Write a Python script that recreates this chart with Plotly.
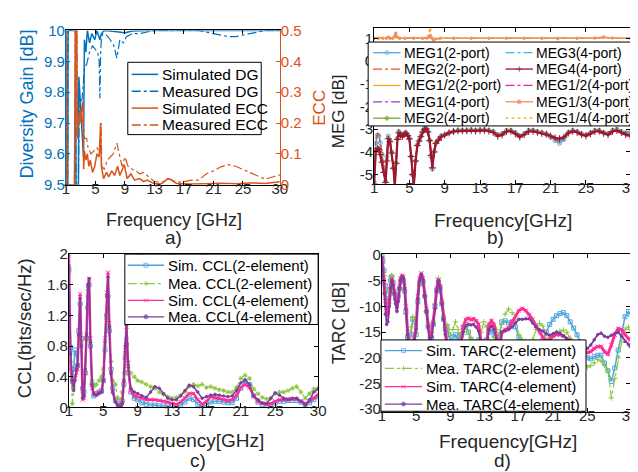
import plotly.graph_objects as go

W, H = 638, 472
FONT = "Liberation Sans, Arial, Helvetica, sans-serif"
TXT = "#262626"
BLUE = "#0072BD"
ORANGE = "#D95319"

# ---------------- tick labels ----------------
freq_ticks = [1, 5, 9, 13, 17, 21, 25, 30]
freq_ticktext = ["1", "5", "9", "13", "17", "21", "25", "30"]
dg_ticks = [9.5, 9.6, 9.7, 9.8, 9.9, 10]
dg_ticktext = ["9.5", "9.6", "9.7", "9.8", "9.9", "10"]
ecc_ticks = [0, 0.1, 0.2, 0.3, 0.4, 0.5]
ecc_ticktext = ["0", "0.1", "0.2", "0.3", "0.4", "0.5"]
meg_ticks = [-5, -4, -3, -2, -1, 0, 1]
meg_ticktext = ["-5", "-4", "-3", "-2", "-1", "0", "1"]
ccl_ticks = [0, 0.4, 0.8, 1.2, 1.6, 2]
ccl_ticktext = ["0", "0.4", "0.8", "1.2", "1.6", "2"]
tarc_ticks = [-30, -25, -20, -15, -10, -5, 0]
tarc_ticktext = ["-30", "-25", "-20", "-15", "-10", "-5", "0"]

# ---------------- panel a) DG / ECC ----------------
a_sim_dg_f = [1.0, 1.2, 1.28, 2.3, 2.4, 2.6, 2.75, 3.0, 3.2, 3.38, 3.5, 3.7, 3.9, 4.2, 4.5, 4.9,
              5.2, 5.6, 5.8, 6.2, 7.0, 8.0, 9.0, 10.0, 12.0, 30.0]
a_sim_dg = [9.0, 9.0, 10.0, 10.0, 9.0, 9.0, 9.85, 9.74, 9.66, 9.59, 9.97, 9.93, 10.0, 9.96, 9.99, 9.97,
            10.0, 9.97, 9.99, 10.0, 9.998, 9.995, 9.993, 9.998, 10.0, 10.0]

a_mea_dg_f = [1.0, 1.2, 1.28, 2.3, 2.45, 2.6, 2.8, 3.2, 3.5, 3.8,
              4.2, 4.6, 5.0, 5.3, 5.5, 5.6, 5.7, 5.8, 6.0, 6.5,
              7.0, 7.5, 7.9, 8.3, 8.8, 9.2, 10, 11, 12, 13,
              19, 20, 21, 22, 23, 24, 25, 26, 27, 28, 30]
a_mea_dg = [9.0, 9.0, 10.0, 10.0, 9.0, 9.0, 9.75, 9.78, 9.88, 9.89,
            9.93, 9.95, 9.94, 9.93, 9.9, 9.78, 9.93, 9.97, 9.99, 9.985,
            9.97, 9.95, 9.91, 9.97, 9.96, 9.98, 9.99, 9.99, 9.995, 10.0,
            10.0, 9.995, 9.99, 9.985, 9.98, 9.98, 9.985, 9.99, 9.995, 10.0, 10.0]

a_sim_ecc_f = [1.0, 1.05, 1.12, 2.15, 2.3, 2.45, 2.55, 2.7, 2.9, 3.1,
               3.3, 3.4, 3.5, 3.7, 3.9, 4.1, 4.3, 4.6, 4.9, 5.2,
               5.5, 5.7, 5.8, 6.1, 6.5, 6.8, 7.2, 7.6, 8.0, 8.3,
               8.9, 9.3, 9.8, 10.3, 11, 11.5, 12, 13, 14, 14.8,
               15.3, 16, 17, 18, 20, 22, 24, 26, 28, 30]
a_sim_ecc = [0.6, 0.3, 0.0, 0.0, 0.6, 0.6, 0.15, 0.22, 0.2, 0.24,
             0.27, 0.05, 0.11, 0.08, 0.1, 0.06, 0.08, 0.04, 0.06, 0.1,
             0.09, 0.2, 0.06, 0.02, 0.04, 0.025, 0.045, 0.03, 0.06, 0.03,
             0.065, 0.02, 0.035, 0.015, 0.02, 0.01, 0.015, 0.003, 0.004, 0.02,
             0.015, 0.004, 0.003, 0.002, 0.003, 0.005, 0.003, 0.006, 0.004, 0.01]

a_mea_ecc_f = [1.0, 1.05, 1.12, 2.15, 2.3, 2.45, 2.55, 2.8, 3.1, 3.3,
               3.5, 3.8, 4.0, 4.4, 4.8, 5.2, 5.6, 5.75, 5.85, 6.2,
               6.6, 7.0, 7.4, 7.9, 8.3, 8.6, 9.0, 9.4, 10, 10.5,
               11, 11.5, 12, 12.5, 13, 14, 15, 16, 17, 18,
               19, 20, 21, 22, 23, 24, 25, 26, 27, 28,
               29, 30]
a_mea_ecc = [0.6, 0.3, 0.0, 0.0, 0.6, 0.6, 0.2, 0.25, 0.2, 0.22,
             0.15, 0.15, 0.12, 0.1, 0.11, 0.12, 0.1, 0.2, 0.06, 0.05,
             0.08, 0.09, 0.1, 0.135, 0.09, 0.06, 0.09, 0.06, 0.05, 0.045,
             0.035, 0.04, 0.03, 0.02, 0.01, 0.008, 0.02, 0.008, 0.01, 0.015,
             0.015, 0.035, 0.045, 0.058, 0.065, 0.06, 0.05, 0.04, 0.03, 0.018,
             0.025, 0.032]

# ---------------- panel b) MEG ----------------
b_freq = [1.0, 1.2, 1.4, 1.55, 1.7, 1.9, 2.1, 2.3, 2.45, 2.6,
          2.8, 3.0, 3.2, 3.35, 3.5, 3.65, 3.8, 4.0, 4.2, 4.4,
          4.6, 4.8, 5.0, 5.2, 5.35, 5.5, 5.7, 5.9, 6.1, 6.3,
          6.5, 6.7, 6.9, 7.1, 7.3, 7.45, 7.6, 7.8, 8.0, 8.3,
          8.6, 9.0, 9.5, 10, 10.5, 11, 11.5, 12, 12.5, 13,
          13.5, 14, 14.5, 15, 15.5, 16, 16.5, 17, 17.5, 18,
          18.5, 19, 19.5, 20, 20.5, 21, 21.5, 22, 22.5, 23,
          23.5, 24, 24.5, 25, 25.5, 26, 26.5, 27, 27.5, 28,
          28.5, 29, 29.5, 30]
meg1_2p = [-5.3, -3.6, -3.25, -3.3, -3.6, -4.1, -4.7, -5.3, -4.2, -3.3,
           -3.5, -4.0, -4.7, -5.6, -4.5, -3.4, -3.1, -3.2, -3.3, -3.2,
           -3.15, -3.25, -3.4, -4.2, -5.0, -5.6, -4.4, -3.7, -3.5, -3.3,
           -3.1, -2.97, -2.95, -3.1, -3.5, -4.2, -4.75, -4.0, -3.6, -3.45,
           -3.3, -3.25, -3.15, -3.1, -3.05, -3.05, -3.05, -3.03, -3.05, -3.03,
           -3.02, -3.05, -3.1, -3.25, -3.2, -3.05, -3.05, -3.15, -3.3, -3.2,
           -3.05, -3.05, -3.1, -3.15, -3.2, -3.35, -3.5, -3.62, -3.45, -3.15,
           -3.05, -3.1, -3.2, -3.25, -3.15, -3.05, -3.05, -3.15, -3.2, -3.05,
           -3.0, -3.1, -3.15, -3.15]
meg2_2p = [-5.0, -3.4, -3.18, -3.25, -3.55, -4.05, -4.65, -5.3, -4.1, -3.28,
           -3.45, -3.95, -4.65, -5.5, -4.4, -3.35, -3.08, -3.18, -3.28, -3.18,
           -3.12, -3.22, -3.38, -4.15, -4.95, -5.5, -4.35, -3.65, -3.45, -3.28,
           -3.08, -2.96, -2.93, -3.08, -3.45, -4.1, -4.7, -3.95, -3.55, -3.42,
           -3.28, -3.22, -3.13, -3.08, -3.04, -3.04, -3.04, -3.02, -3.04, -3.02,
           -3.01, -3.04, -3.08, -3.22, -3.18, -3.04, -3.04, -3.13, -3.28, -3.18,
           -3.04, -3.04, -3.08, -3.13, -3.18, -3.3, -3.45, -3.55, -3.4, -3.13,
           -3.04, -3.08, -3.18, -3.22, -3.13, -3.04, -3.04, -3.13, -3.18, -3.04,
           -2.99, -3.08, -3.13, -3.13]
meg1_4p = [-5.4, -4.0, -3.85, -3.9, -4.1, -4.4, -4.85, -5.35, -4.4, -3.4,
           -3.55, -4.05, -4.7, -5.5, -4.5, -3.45, -3.15, -3.25, -3.3, -3.22,
           -3.18, -3.28, -3.42, -4.2, -5.0, -5.5, -4.4, -3.7, -3.5, -3.32,
           -3.12, -3.0, -2.98, -3.12, -3.5, -4.15, -4.7, -4.0, -3.62, -3.48,
           -3.32, -3.25, -3.15, -3.08, -3.05, -3.05, -3.05, -3.04, -3.06, -3.04,
           -3.03, -3.06, -3.12, -3.27, -3.22, -3.07, -3.07, -3.17, -3.3, -3.2,
           -3.07, -3.06, -3.1, -3.14, -3.18, -3.28, -3.38, -3.42, -3.33, -3.14,
           -3.06, -3.1, -3.2, -3.25, -3.17, -3.07, -3.06, -3.15, -3.2, -3.07,
           -3.03, -3.12, -3.2, -3.25]
meg2_4p = [-5.3, -4.0, -3.82, -3.88, -4.08, -4.4, -4.85, -5.3, -4.35, -3.38,
           -3.52, -4.02, -4.68, -5.5, -4.45, -3.42, -3.13, -3.23, -3.3, -3.21,
           -3.16, -3.26, -3.4, -4.18, -4.98, -5.5, -4.38, -3.68, -3.48, -3.3,
           -3.11, -2.99, -2.97, -3.11, -3.48, -4.12, -4.68, -3.98, -3.6, -3.46,
           -3.31, -3.24, -3.14, -3.08, -3.05, -3.05, -3.05, -3.04, -3.06, -3.04,
           -3.03, -3.06, -3.12, -3.28, -3.23, -3.08, -3.07, -3.18, -3.32, -3.22,
           -3.08, -3.07, -3.12, -3.16, -3.2, -3.3, -3.4, -3.44, -3.35, -3.15,
           -3.07, -3.12, -3.22, -3.27, -3.18, -3.08, -3.07, -3.16, -3.22, -3.08,
           -3.04, -3.13, -3.22, -3.27]
meg3_4p = [-5.2, -3.9, -3.7, -3.75, -3.95, -4.3, -4.8, -5.3, -4.3, -3.35,
           -3.5, -4.0, -4.7, -5.6, -4.5, -3.4, -3.12, -3.22, -3.3, -3.2,
           -3.15, -3.25, -3.4, -4.2, -5.0, -5.6, -4.4, -3.7, -3.5, -3.3,
           -3.1, -2.98, -2.96, -3.1, -3.5, -4.2, -4.75, -4.0, -3.6, -3.45,
           -3.3, -3.25, -3.15, -3.1, -3.05, -3.05, -3.05, -3.03, -3.05, -3.03,
           -3.02, -3.05, -3.1, -3.25, -3.2, -3.05, -3.05, -3.15, -3.3, -3.2,
           -3.05, -3.05, -3.1, -3.15, -3.2, -3.32, -3.45, -3.5, -3.4, -3.15,
           -3.05, -3.1, -3.2, -3.25, -3.15, -3.05, -3.05, -3.15, -3.2, -3.05,
           -3.0, -3.1, -3.15, -3.15]
meg4_4p = [-5.4, -3.95, -3.85, -3.9, -4.12, -4.45, -4.9, -5.35, -4.4, -3.42,
           -3.55, -4.05, -4.72, -5.5, -4.5, -3.45, -3.16, -3.26, -3.32, -3.23,
           -3.18, -3.28, -3.43, -4.2, -5.0, -5.5, -4.4, -3.72, -3.52, -3.33,
           -3.13, -3.0, -2.98, -3.12, -3.5, -4.15, -4.7, -4.0, -3.62, -3.48,
           -3.33, -3.26, -3.16, -3.1, -3.07, -3.07, -3.07, -3.06, -3.08, -3.06,
           -3.05, -3.08, -3.14, -3.3, -3.25, -3.1, -3.09, -3.2, -3.34, -3.24,
           -3.1, -3.09, -3.14, -3.18, -3.22, -3.3, -3.38, -3.42, -3.35, -3.17,
           -3.09, -3.14, -3.24, -3.29, -3.2, -3.1, -3.09, -3.18, -3.24, -3.1,
           -3.06, -3.15, -3.24, -3.3]

b_ratio_freq = [1.0, 1.5, 2.0, 2.4, 2.6, 2.8, 3.1, 3.3, 3.45, 3.6,
                3.9, 4.5, 5.5, 6.5, 7.0, 7.2, 7.35, 7.5, 7.7, 7.9,
                8.5, 10, 12, 14, 16, 18, 20, 21.8, 24, 26,
                27, 28, 30]
meg12_2p = [1.0, 1.0, 1.0, 1.01, 1.06, 1.01, 1.0, 1.04, 1.1, 1.03,
            1.0, 1.0, 1.0, 1.0, 1.0, 1.02, 1.06, 1.02, 0.96, 0.98,
            1.0, 1.0, 1.0, 1.0, 1.0, 1.0, 1.0, 0.98, 1.0, 1.0,
            1.03, 1.0, 1.0]
meg12_4p = [1.0, 1.0, 1.0, 1.0, 1.04, 1.0, 1.0, 1.06, 1.2, 1.05,
            1.0, 1.0, 1.0, 1.0, 1.01, 1.08, 1.22, 1.05, 0.94, 0.97,
            1.0, 1.0, 1.0, 1.0, 1.0, 1.0, 1.0, 0.98, 1.0, 1.0,
            1.04, 1.0, 1.0]
meg13_4p = [1.0, 1.0, 1.0, 1.0, 1.05, 1.0, 1.0, 1.07, 1.22, 1.06,
            1.0, 1.0, 1.0, 1.0, 1.01, 1.05, 1.12, 1.03, 0.93, 0.97,
            1.0, 1.0, 1.0, 1.0, 1.0, 1.0, 1.0, 0.98, 1.0, 1.01,
            1.06, 1.01, 1.0]
meg14_4p = [1.0, 1.0, 1.0, 1.0, 1.03, 1.0, 1.0, 1.03, 1.08, 1.02,
            1.0, 1.0, 1.0, 1.0, 1.02, 1.2, 1.48, 1.1, 0.95, 0.98,
            1.0, 1.0, 1.0, 1.0, 1.0, 1.0, 1.0, 0.99, 1.0, 1.0,
            1.02, 1.0, 1.0]

# ---------------- panel c) CCL ----------------
c_freq = [1.0, 1.2, 1.4, 1.55, 1.7, 1.85, 2.0, 2.15, 2.3, 2.45,
          2.6, 2.75, 2.9, 3.05, 3.2, 3.35, 3.5, 3.7, 3.9, 4.2,
          4.5, 4.8, 5.0, 5.2, 5.4, 5.55, 5.7, 5.9, 6.1, 6.4,
          6.7, 7.0, 7.2, 7.4, 7.55, 7.7, 7.9, 8.2, 8.6, 9.0,
          9.5, 10, 10.5, 11, 11.5, 12, 12.5, 13, 13.5, 14,
          14.5, 15, 15.5, 16, 16.5, 17, 17.5, 18, 18.5, 19,
          19.5, 20, 20.5, 21, 21.5, 22, 22.5, 23, 23.5, 24,
          24.5, 25, 25.5, 26, 26.5, 27, 27.5, 28, 28.5, 29,
          29.5, 30]
ccl_sim_2 = [1.8, 0.78, 0.35, 0.5, 0.75, 0.7, 0.55, 1.0, 1.35, 0.9,
             0.25, 0.2, 0.45, 0.9, 1.3, 1.6, 0.8, 0.3, 0.15, 0.18,
             0.2, 0.22, 0.35, 0.75, 1.2, 1.45, 1.0, 0.5, 0.25, 0.1,
             0.05, 0.02, 0.08, 0.3, 0.65, 0.82, 0.45, 0.2, 0.12, 0.1,
             0.06, 0.04, 0.03, 0.03, 0.02, 0.02, 0.02, 0.01, 0.01, 0.03,
             0.07, 0.12, 0.1, 0.04, 0.01, 0.03, 0.07, 0.08, 0.08, 0.07,
             0.06, 0.06, 0.12, 0.25, 0.34, 0.3, 0.15, 0.07, 0.04, 0.03,
             0.03, 0.06, 0.08, 0.08, 0.09, 0.09, 0.09, 0.07, 0.04, 0.06,
             0.1, 0.14]
ccl_mea_2 = [1.75, 0.6, 0.05, 0.25, 0.4, 0.5, 0.55, 0.95, 1.35, 0.85,
             0.2, 0.18, 0.45, 0.9, 1.45, 1.6, 0.85, 0.35, 0.27, 0.3,
             0.35, 0.4, 0.5, 0.8, 1.15, 1.3, 1.05, 0.6, 0.35, 0.3,
             0.12, 0.1, 0.2, 0.45, 0.7, 0.9, 0.6, 0.45, 0.4, 0.35,
             0.33, 0.3, 0.27, 0.25, 0.2, 0.17, 0.14, 0.12, 0.13, 0.16,
             0.2, 0.27, 0.3, 0.28, 0.3, 0.26, 0.27, 0.25, 0.23, 0.22,
             0.2, 0.2, 0.26, 0.38, 0.42, 0.38, 0.24, 0.18, 0.13, 0.11,
             0.12, 0.18, 0.2, 0.2, 0.22, 0.25, 0.27, 0.2, 0.12, 0.18,
             0.24, 0.25]
ccl_sim_4 = [2.0, 0.5, 0.33, 0.3, 0.38, 0.45, 0.5, 0.95, 1.48, 0.8,
             0.1, 0.12, 0.45, 0.95, 1.55, 1.68, 0.9, 0.25, 0.17, 0.17,
             0.2, 0.2, 0.35, 0.9, 1.5, 1.76, 1.1, 0.45, 0.2, 0.08,
             0.03, 0.0, 0.05, 0.35, 0.75, 1.05, 0.5, 0.22, 0.15, 0.14,
             0.12, 0.1, 0.1, 0.1, 0.09, 0.08, 0.07, 0.05, 0.04, 0.07,
             0.12, 0.18, 0.18, 0.1, 0.04, 0.08, 0.14, 0.13, 0.12, 0.1,
             0.09, 0.1, 0.16, 0.26, 0.3, 0.26, 0.15, 0.08, 0.05, 0.04,
             0.05, 0.08, 0.1, 0.1, 0.11, 0.11, 0.11, 0.08, 0.05, 0.08,
             0.13, 0.17]
ccl_mea_4 = [1.85, 0.7, 0.35, 0.22, 0.35, 0.5, 0.55, 0.95, 1.42, 0.8,
             0.12, 0.15, 0.5, 0.95, 1.6, 1.68, 0.85, 0.3, 0.18, 0.16,
             0.18, 0.2, 0.35, 0.85, 1.45, 1.7, 1.05, 0.45, 0.2, 0.07,
             0.03, 0.01, 0.05, 0.35, 0.8, 1.07, 0.55, 0.25, 0.2, 0.18,
             0.15, 0.13, 0.2, 0.27, 0.25, 0.18, 0.12, 0.1, 0.1, 0.15,
             0.22, 0.29, 0.27, 0.2, 0.12, 0.14, 0.16, 0.17, 0.16, 0.15,
             0.14, 0.15, 0.22, 0.32, 0.36, 0.3, 0.15, 0.1, 0.06, 0.05,
             0.12, 0.19, 0.16, 0.12, 0.1, 0.12, 0.12, 0.08, 0.03, 0.1,
             0.2, 0.24]

# ---------------- panel d) TARC ----------------
d_freq = [1.0, 1.1, 1.25, 1.4, 1.55, 1.7, 1.85, 2.0, 2.15, 2.3,
          2.45, 2.6, 2.75, 2.9, 3.05, 3.2, 3.35, 3.5, 3.65, 3.8,
          4.0, 4.2, 4.4, 4.6, 4.8, 5.0, 5.2, 5.4, 5.6, 5.8,
          6.0, 6.2, 6.4, 6.6, 6.8, 7.0, 7.2, 7.4, 7.6, 7.8,
          8.0, 8.2, 8.4, 8.6, 8.8, 9.0, 9.3, 9.6, 9.9, 10.2,
          10.5, 10.8, 11.1, 11.4, 11.7, 12.0, 12.3, 12.6, 12.9, 13.2,
          13.5, 13.8, 14.1, 14.4, 14.7, 15.0, 15.4, 15.8, 16.2, 16.6,
          17.0, 17.4, 17.8, 18.2, 18.6, 19.0, 19.4, 19.8, 20.2, 20.6,
          21.0, 21.4, 21.8, 22.2, 22.6, 23.0, 23.4, 23.8, 24.2, 24.6,
          25.0, 25.4, 25.8, 26.2, 26.6, 27.0, 27.4, 27.8, 28.2, 28.6,
          29.0, 29.4, 29.8, 30.0]
tarc_sim_2 = [-0.2, -1.0, -3.0, -6.0, -8.5, -9.5, -7.0, -5.0, -4.2, -5.5,
              -7.5, -8.5, -9.0, -8.0, -6.5, -5.0, -4.5, -5.0, -7.0, -11.0,
              -16.0, -17.5, -15.5, -12.5, -13.0, -15.5, -9.0, -5.5, -4.8, -5.2,
              -8.0, -11.0, -14.0, -17.0, -16.0, -13.5, -10.0, -7.0, -5.2, -6.5,
              -9.5, -12.5, -14.5, -14.0, -15.5, -17.0, -16.0, -15.5, -16.5, -15.5,
              -14.0, -13.5, -15.0, -16.5, -17.0, -17.5, -16.5, -16.8, -17.0, -16.5,
              -15.0, -14.5, -15.5, -17.0, -16.0, -13.0, -12.8, -13.2, -13.0, -14.0,
              -16.0, -18.0, -17.5, -18.5, -19.0, -18.0, -17.0, -16.5, -15.0, -13.5,
              -12.5, -11.8, -11.4, -11.2, -11.8, -13.0, -14.2, -15.5, -17.0, -18.5,
              -20.0, -20.2, -19.8, -19.5, -19.5, -21.0, -22.5, -24.6, -22.0, -18.5,
              -15.0, -12.0, -11.0, -11.5]
tarc_mea_2 = [-0.3, -1.5, -4.0, -7.0, -9.0, -9.0, -6.5, -4.2, -4.0, -5.0,
              -7.0, -8.0, -9.0, -8.0, -6.5, -5.0, -4.5, -4.8, -7.0, -11.5,
              -16.5, -17.0, -14.0, -12.0, -12.5, -15.0, -9.5, -6.0, -5.0, -5.2,
              -8.0, -11.0, -13.5, -16.0, -15.0, -13.0, -9.5, -6.5, -4.5, -6.0,
              -9.0, -12.0, -14.0, -13.5, -14.5, -15.5, -14.5, -13.0, -14.5, -16.0,
              -15.5, -14.0, -15.0, -16.0, -17.0, -17.5, -16.5, -15.0, -13.0, -14.0,
              -16.5, -17.0, -16.0, -14.5, -15.5, -13.5, -11.5, -10.5, -11.2, -12.5,
              -15.5, -16.5, -16.8, -17.0, -16.5, -14.5, -13.3, -13.8, -15.5, -16.0,
              -15.5, -15.0, -14.8, -14.6, -15.0, -16.2, -17.5, -19.0, -20.0, -21.0,
              -21.8, -21.5, -21.0, -20.3, -20.6, -21.5, -22.5, -27.8, -24.0, -20.0,
              -17.0, -14.5, -14.0, -14.5]
tarc_sim_4 = [-0.5, -2.0, -5.3, -9.0, -11.5, -11.8, -9.0, -6.0, -4.5, -5.5,
              -7.0, -9.0, -10.5, -8.5, -6.0, -4.5, -4.0, -4.2, -6.0, -10.0,
              -15.0, -20.0, -21.0, -17.0, -16.0, -14.0, -8.0, -4.5, -3.5, -4.5,
              -7.5, -10.5, -13.5, -16.5, -15.5, -13.0, -10.0, -6.5, -4.8, -6.0,
              -9.0, -12.0, -15.0, -18.0, -20.0, -21.0, -20.0, -19.5, -19.0, -17.5,
              -14.0, -12.5, -12.3, -12.6, -12.4, -12.8, -13.5, -17.0, -20.0, -18.0,
              -13.5, -12.8, -13.5, -16.0, -19.0, -15.0, -14.5, -14.2, -13.0, -11.8,
              -10.8, -10.4, -10.8, -11.6, -12.5, -13.8, -15.0, -16.0, -16.6, -16.5,
              -15.8, -15.5, -15.5, -15.7, -16.2, -16.8, -17.2, -17.8, -18.5, -18.8,
              -19.0, -18.8, -18.2, -17.8, -17.8, -18.8, -19.3, -17.5, -15.5, -14.3,
              -14.5, -15.5, -16.2, -16.6]
tarc_mea_4 = [-0.5, -3.0, -7.5, -11.5, -13.5, -13.0, -10.0, -6.5, -5.0, -5.8,
              -7.5, -9.5, -11.0, -9.0, -6.5, -5.0, -4.3, -4.5, -6.5, -10.5,
              -15.5, -20.0, -21.0, -17.5, -16.5, -14.5, -8.5, -5.0, -3.8, -4.8,
              -8.0, -11.0, -14.0, -17.0, -16.0, -13.5, -10.5, -7.0, -5.0, -6.5,
              -9.5, -12.5, -15.5, -18.5, -20.0, -21.0, -20.0, -19.5, -19.0, -18.0,
              -15.0, -13.8, -13.5, -13.6, -13.5, -14.0, -14.8, -17.5, -20.0, -18.5,
              -14.5, -13.8, -14.5, -16.5, -19.0, -15.0, -14.8, -14.5, -14.0, -13.2,
              -12.5, -12.5, -12.4, -12.4, -13.2, -14.0, -14.5, -14.8, -15.3, -15.6,
              -15.3, -15.0, -15.2, -15.8, -16.3, -16.6, -17.0, -17.5, -17.8, -18.0,
              -18.2, -17.5, -16.5, -15.5, -15.2, -15.8, -16.0, -15.6, -15.3, -15.0,
              -15.8, -16.8, -17.4, -17.8]

# ---------------- helpers ----------------
def xdom(x0, x1):
    return [x0 / W, x1 / W]


def ydom(y0, y1):
    return [1 - y1 / H, 1 - y0 / H]


def ax(**kw):
    d = dict(showgrid=False, zeroline=False, showline=True, linewidth=1, linecolor="black",
             ticks="inside", ticklen=4, tickwidth=1, tickcolor="black",
             tickfont=dict(family=FONT, size=15, color=TXT), fixedrange=True)
    d.update(kw)
    return d


fig = go.Figure()


def add(x, y, color, width=1.5, dash="solid", xa="x", ya="y", symbol=None, msize=4, mlw=1):
    if symbol is None:
        fig.add_trace(go.Scatter(x=x, y=y, mode="lines", xaxis=xa, yaxis=ya, showlegend=False,
                                 hoverinfo="skip", line=dict(color=color, width=width, dash=dash)))
    else:
        fig.add_trace(go.Scatter(x=x, y=y, mode="lines+markers", xaxis=xa, yaxis=ya, showlegend=False,
                                 hoverinfo="skip", line=dict(color=color, width=width, dash=dash),
                                 marker=dict(symbol=symbol, size=msize, color=color,
                                             line=dict(color=color, width=mlw))))


# panel a
add(a_sim_dg_f, a_sim_dg, BLUE, 1.5, "solid", "x", "y")
add(a_mea_dg_f, a_mea_dg, BLUE, 1.2, "dashdot", "x", "y")
add(a_sim_ecc_f, a_sim_ecc, ORANGE, 1.5, "solid", "x", "y2")
add(a_mea_ecc_f, a_mea_ecc, ORANGE, 1.2, "dashdot", "x", "y2")

# panel b colours
C_MEG1_2 = "#5AA5DC"
C_MEG2_2 = "#E8541E"
C_MEG12_2 = "#EDB120"
C_MEG1_4 = "#9B3DC0"
C_MEG2_4 = "#77AC30"
C_MEG3_4 = "#3DB8EE"
C_MEG4_4 = "#A2142F"
C_MEG12_4 = "#F020B0"
C_MEG13_4 = "#F08C6C"
C_MEG14_4 = "#F5A623"

add(b_freq, meg1_2p, C_MEG1_2, 1.5, "solid", "x2", "y3", "circle-open", 4)
add(b_freq, meg2_2p, C_MEG2_2, 1.5, "dashdot", "x2", "y3")
add(b_freq, meg1_4p, C_MEG1_4, 1.5, "dashdot", "x2", "y3")
add(b_freq, meg2_4p, C_MEG2_4, 1.5, "solid", "x2", "y3", "circle", 3)
add(b_freq, meg3_4p, C_MEG3_4, 1.2, "dashdot", "x2", "y3")
add(b_freq, meg4_4p, C_MEG4_4, 2.2, "solid", "x2", "y3", "cross-thin-open", 5)
add(b_ratio_freq, meg12_2p, C_MEG12_2, 1.5, "solid", "x2", "y3")
add(b_ratio_freq, meg12_4p, C_MEG12_4, 1.2, "dashdot", "x2", "y3")
add(b_ratio_freq, meg13_4p, C_MEG13_4, 1.2, "solid", "x2", "y3", "circle", 2.5)
add(b_ratio_freq, meg14_4p, C_MEG14_4, 1.5, "dot", "x2", "y3")

# panel c/d colours
C_SIM2 = "#4DA3DD"
C_MEA2 = "#8DC63F"
C_SIM4 = "#FF2E96"
C_MEA4 = "#7E3D9E"

add(c_freq, ccl_sim_2, C_SIM2, 1.5, "solid", "x3", "y4", "square-open", 4)
add(c_freq, ccl_mea_2, C_MEA2, 1.2, "dashdot", "x3", "y4", "asterisk-open", 4)
add(c_freq, ccl_sim_4, C_SIM4, 2.5, "solid", "x3", "y4", "x-thin-open", 4)
add(c_freq, ccl_mea_4, C_MEA4, 1.5, "solid", "x3", "y4", "circle", 2.5)

add(d_freq, tarc_sim_2, C_SIM2, 1.5, "solid", "x4", "y5", "square-open", 4)
add(d_freq, tarc_mea_2, C_MEA2, 1.2, "dashdot", "x4", "y5", "cross-thin-open", 4)
add(d_freq, tarc_sim_4, C_SIM4, 3, "solid", "x4", "y5", "x-thin-open", 4)
add(d_freq, tarc_mea_4, C_MEA4, 1.8, "solid", "x4", "y5", "circle", 2.5)

# ---------------- legends (drawn on a pixel overlay axis) ----------------
annotations = []


def txt(x, y, s, size, color="black", xanchor="left", angle=0):
    annotations.append(dict(x=x, y=y, xref="x5", yref="y6", text=s, showarrow=False,
                            xanchor=xanchor, yanchor="middle", textangle=angle,
                            font=dict(family=FONT, size=size, color=color)))


def box(x0, y0, x1, y1):
    fig.add_trace(go.Scatter(x=[x0, x1, x1, x0, x0], y=[y0, y0, y1, y1, y0], mode="lines",
                             fill="toself", fillcolor="white", line=dict(color="black", width=1),
                             xaxis="x5", yaxis="y6", showlegend=False, hoverinfo="skip"))


def sample(x0, x1, y, color, width=1.5, dash="solid", symbol=None, msize=5):
    if symbol is None:
        fig.add_trace(go.Scatter(x=[x0, x1], y=[y, y], mode="lines", xaxis="x5", yaxis="y6",
                                 showlegend=False, hoverinfo="skip",
                                 line=dict(color=color, width=width, dash=dash)))
    else:
        fig.add_trace(go.Scatter(x=[x0, (x0 + x1) / 2, x1], y=[y, y, y], mode="lines+markers",
                                 xaxis="x5", yaxis="y6", showlegend=False, hoverinfo="skip",
                                 line=dict(color=color, width=width, dash=dash),
                                 marker=dict(symbol=symbol, size=[0, msize, 0], color=color,
                                             line=dict(color=color, width=1))))


# legend a
box(118, 47, 254, 122)
leg_a = [("Simulated DG", BLUE, "solid"), ("Measured DG", BLUE, "dashdot"),
         ("Simulated ECC", ORANGE, "solid"), ("Measured ECC", ORANGE, "dashdot")]
for (lab, col, ds), yy in zip(leg_a, [59.5, 77, 94.5, 112]):
    sample(122, 149, yy, col, 1.5, ds)
    txt(151, yy, lab, 15.5)

# legend b (two columns)
box(363, 26, 635, 113)
leg_b_left = [("MEG1(2-port)", C_MEG1_2, "solid", "circle-open"),
              ("MEG2(2-port)", C_MEG2_2, "dashdot", None),
              ("MEG1/2(2-port)", C_MEG12_2, "solid", None),
              ("MEG1(4-port)", C_MEG1_4, "dashdot", None),
              ("MEG2(4-port)", C_MEG2_4, "solid", "circle")]
leg_b_right = [("MEG3(4-port)", C_MEG3_4, "dashdot", None),
               ("MEG4(4-port)", C_MEG4_4, "solid", "cross-thin-open"),
               ("MEG1/2(4-port)", C_MEG12_4, "dashdot", None),
               ("MEG1/3(4-port)", C_MEG13_4, "solid", "circle"),
               ("MEG1/4(4-port)", C_MEG14_4, "dot", None)]
rows_b = [37, 54, 71, 88, 105]
for (lab, col, ds, sym), yy in zip(leg_b_left, rows_b):
    sample(368, 396, yy, col, 1.3, ds, sym, 4)
    txt(397, yy, lab, 14)
for (lab, col, ds, sym), yy in zip(leg_b_right, rows_b):
    sample(503, 531, yy, col, 1.3, ds, sym, 4)
    txt(532, yy, lab, 14)

# legend c
box(115, 246, 312, 319)
leg_c = [("Sim. CCL(2-element)", C_SIM2, "solid", "square-open"),
         ("Mea. CCL(2-element)", C_MEA2, "dashdot", "asterisk-open"),
         ("Sim. CCL(4-element)", C_SIM4, "solid", "x-thin-open"),
         ("Mea. CCL(4-element)", C_MEA4, "solid", "circle")]
for (lab, col, ds, sym), yy in zip(leg_c, [257.5, 276.5, 294, 311]):
    sample(118, 155, yy, col, 1.3, ds, sym, 4)
    txt(157, yy, lab, 15)

# legend d
box(376, 335, 585, 409)
leg_d = [("Sim. TARC(2-element)", C_SIM2, "solid", "square-open"),
         ("Mea. TARC(2-element)", C_MEA2, "dashdot", "cross-thin-open"),
         ("Sim. TARC(4-element)", C_SIM4, "solid", "x-thin-open"),
         ("Mea. TARC(4-element)", C_MEA4, "solid", "circle")]
for (lab, col, ds, sym), yy in zip(leg_d, [346, 364.5, 383.5, 401.5]):
    sample(380, 418, yy, col, 1.3, ds, sym, 4)
    txt(420, yy, lab, 15)

# axis titles and panel labels
txt(165, 211, "Frequency [GHz]", 18, TXT, "center")
txt(165, 229, "a)", 19, TXT, "center")
txt(15, 90, "Diversity Gain [dB]", 18, BLUE, "center", -90)
txt(313, 94, "ECC", 17, ORANGE, "center", -90)

txt(500, 211, "Frequency[GHz]", 19, TXT, "center")
txt(493, 229, "b)", 19, TXT, "center")
txt(333, 98, "MEG [dB]", 17, TXT, "center", -90)

txt(187, 439, "Frequency[GHz]", 19, TXT, "center")
txt(190, 460, "c)", 19, TXT, "center")
txt(13, 323, "CCL(bits/sec/Hz)", 18.5, TXT, "center", -90)

txt(505, 440, "Frequency[GHz]", 19, TXT, "center")
txt(500, 460, "d)", 19, TXT, "center")
txt(333, 318, "TARC [dB]", 17.5, TXT, "center", -90)

XSO = -10   # pull x tick labels closer to the axis
YSO = -3

fig.update_layout(
    width=W, height=H,
    margin=dict(l=0, r=0, t=0, b=0),
    paper_bgcolor="white",
    plot_bgcolor="rgba(0,0,0,0)",
    showlegend=False,
    font=dict(family=FONT, color=TXT),
    xaxis=ax(domain=xdom(55, 273), range=[1, 30], anchor="y", tickvals=freq_ticks,
             ticktext=freq_ticktext, mirror="ticks", ticklabelstandoff=XSO),
    yaxis=ax(domain=ydom(14, 174), range=[9.5, 10], anchor="x", tickvals=dg_ticks,
             ticktext=dg_ticktext, linecolor=BLUE, tickcolor=BLUE, ticklabelstandoff=YSO,
             tickfont=dict(family=FONT, size=15, color=BLUE)),
    yaxis2=ax(overlaying="y", side="right", anchor="x", range=[0, 0.5], tickvals=ecc_ticks,
              ticktext=ecc_ticktext, linecolor=ORANGE, tickcolor=ORANGE, ticklabelstandoff=YSO,
              tickfont=dict(family=FONT, size=15, color=ORANGE)),
    xaxis2=ax(domain=xdom(369, 630), range=[1, 30], anchor="y3", tickvals=freq_ticks,
              ticktext=freq_ticktext, mirror="ticks", ticklabelstandoff=XSO),
    yaxis3=ax(domain=ydom(11, 173), range=[-5.4, 1.47], anchor="x2", tickvals=meg_ticks,
              ticktext=meg_ticktext, mirror="ticks", ticklabelstandoff=YSO),
    xaxis3=ax(domain=xdom(58, 312), range=[1, 30], anchor="y4", tickvals=freq_ticks,
              ticktext=freq_ticktext, mirror="ticks", ticklabelstandoff=XSO),
    yaxis4=ax(domain=ydom(246, 405), range=[0, 2], anchor="x3", tickvals=ccl_ticks,
              ticktext=ccl_ticktext, mirror="ticks", ticklabelstandoff=YSO),
    xaxis4=ax(domain=xdom(377, 630), range=[1, 30], anchor="y5", tickvals=freq_ticks,
              ticktext=freq_ticktext, mirror="ticks", ticklabelstandoff=XSO),
    yaxis5=ax(domain=ydom(246, 410), range=[-30.6, 0.19], anchor="x4", tickvals=tarc_ticks,
              ticktext=tarc_ticktext, mirror="ticks", ticklabelstandoff=YSO),
    xaxis5=dict(domain=[0, 1], range=[0, W], visible=False, anchor="y6", fixedrange=True),
    yaxis6=dict(domain=[0, 1], range=[H, 0], visible=False, anchor="x5", fixedrange=True),
    annotations=annotations,
)

fig.write_html("out.html")
